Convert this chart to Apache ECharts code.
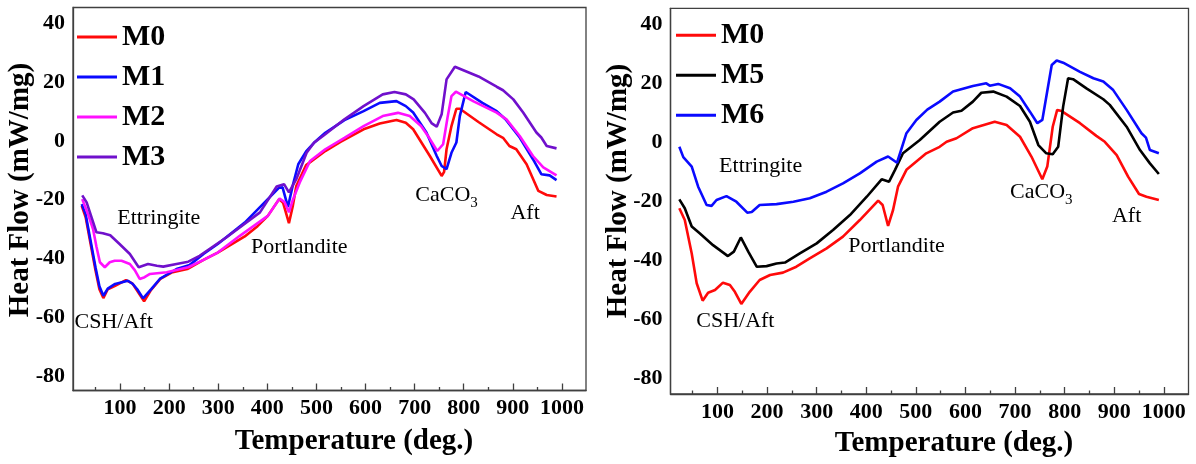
<!DOCTYPE html>
<html>
<head>
<meta charset="utf-8">
<script src="https://cdn.jsdelivr.net/npm/echarts@6/dist/echarts.min.js"></script>
<style>
html,body{margin:0;padding:0;background:#fff;}
#c{width:1196px;height:464px;}
</style>
</head>
<body>
<div id="c"></div>
<script>
// ---------- data (temperature in deg., heat flow in mW/mg) ----------
const xTickValues = [100,200,300,400,500,600,700,800,900,1000];
const xMinorValues = [50,150,250,350,450,550,650,750,850,950];
const yTickValues = [-80,-60,-40,-20,0,20,40];

// Left panel
const m0L_T = [22,30,40,50,58,66,75,90,112,125,135,149,162,182,205,237,270,299,354,380,401,424,432,444,452,459,479,518,549,596,629,663,682,697,731,755,760,765,775,785,792,830,867,880,893,907,928,952,969,989];
const m0L_V = [-22.1,-26,-35,-44,-50.5,-53.5,-50.5,-49.3,-47.4,-48.5,-51,-54.6,-51,-47,-44.8,-43.6,-40.5,-38,-32.5,-29,-25.5,-19.8,-21,-28,-22,-15.3,-8.2,-3.4,-0.3,4,6,7.2,6.2,4,-5.1,-11.9,-10.5,-2.8,5.1,11,11,6.5,2.3,1.1,-1.7,-2.8,-7.9,-17,-18.4,-18.9];

const m1L_T = [22,30,40,50,58,66,75,90,116,126,135,147,164,181,215,242,270,299,354,401,424,431,442,452,463,479,495,518,557,596,629,663,682,697,724,745,755,765,775,785,792,804,838,867,885,914,941,958,975,989];
const m1L_V = [-21.5,-25,-34,-43,-49.5,-52.7,-50.3,-48.7,-47.6,-48.7,-50.5,-53.6,-50.4,-47,-43.6,-42.2,-38.5,-35.1,-27.8,-19.8,-15.9,-15.8,-22.5,-15,-7.9,-3.5,-0.6,2.8,7.1,10.2,13,13.6,11.9,9.7,2.9,-5.1,-8.5,-9.6,-4,-0.5,8.5,16.7,13,10.2,7.4,1.2,-6.2,-11.3,-11.7,-13.3];

const m2L_T = [23,35,45,52,59,69,79,89,103,120,130,140,150,161,195,239,270,299,344,401,425,435,444,452,466,487,518,557,596,635,666,690,713,730,746,758,767,775,784,820,867,887,914,941,962,989];
const m2L_V = [-19.8,-25,-30,-36,-41.3,-43,-41.3,-40.8,-40.8,-41.9,-44,-47,-46.4,-45.3,-44.7,-43,-40.5,-38,-32.3,-25.5,-19.6,-20.8,-24.3,-20,-14.1,-6.8,-2.8,1.1,5.1,8.5,9.6,8.5,5.1,1,-3.4,-1.1,8,15.3,16.8,13.5,9.7,7.4,1.7,-5.1,-9,-11.7];

const m3L_T = [23,32,42,52,65,80,99,120,138,157,175,188,215,239,262,317,385,419,434,444,459,480,495,518,557,596,635,659,682,698,721,735,745,755,765,782,830,867,880,901,921,948,958,969,989];
const m3L_V = [-18.5,-20.9,-26,-31.1,-31.4,-32.1,-35.1,-38.5,-43,-41.9,-42.5,-42.8,-41.9,-41.1,-39.1,-32.8,-24.3,-15.5,-14.7,-17.5,-13,-4,-0.6,2.3,7.4,11.9,15.9,16.7,15.9,14.2,9.6,6,4.9,9.1,21,25.3,22,18.5,17.3,14.2,9.7,2.9,1.2,-1.7,-2.5];

// Right panel
const m0R_T = [23,34,48,58,70,81,95,111,125,135,148,165,185,206,232,259,286,320,353,387,424,433,444,454,464,481,521,548,562,582,615,659,683,710,733,755,765,776,785,794,831,864,881,905,928,950,965,990];
const m0R_V = [-22.4,-26.4,-37.7,-47.8,-53.7,-51,-50.1,-47.6,-48.4,-50.7,-54.8,-50.7,-46.7,-45,-44.2,-42.2,-39.4,-36,-32,-26.4,-19.8,-21.3,-28.4,-23,-15.1,-9.4,-3.8,-1.6,0.1,1.3,4.7,6.9,5.8,1.8,-4.9,-12.6,-8.3,5.2,10.9,10.5,6.4,2.1,0.1,-4.4,-11.7,-17.6,-18.5,-19.6];

const m5R_T = [23,34,48,64,91,121,133,147,162,179,199,219,236,266,300,333,367,401,431,446,458,474,508,548,575,592,615,632,656,683,710,730,747,763,776,787,797,807,817,844,878,891,925,952,972,990];
const m5R_V = [-19.4,-22.4,-28.6,-30.9,-34.9,-38.6,-37.1,-32.3,-37.1,-42.2,-42,-41.1,-40.8,-37.7,-34.3,-29.8,-24.7,-18.5,-12.6,-13.4,-9.4,-3.8,0.7,6.9,10,10.6,13.7,16.7,17.1,15.4,12.2,6.9,-1,-3.8,-4.1,-1.6,12,21.6,21.3,18.2,14.5,12.6,5.2,-2.7,-7.2,-10.8];

const m6R_T = [23,31,48,61,78,88,98,118,138,160,169,185,219,253,286,320,353,387,421,444,462,481,501,523,548,575,615,642,649,666,690,710,730,745,755,774,784,797,831,858,878,898,925,955,964,972,990];
const m6R_V = [-1.6,-5.1,-8.3,-15.1,-21.3,-21.6,-19.6,-18.3,-20.2,-23.9,-23.7,-21.3,-21,-20.2,-19,-16.8,-14,-10.6,-6.6,-4.9,-7,3,7.5,11,13.7,17.1,19,19.9,19.1,19.7,18.2,15.4,10.3,6.4,7.5,26.1,27.6,26.9,23.8,21.6,20.5,17.6,10.9,3,1.5,-2.7,-3.8];

// Annotation labels (text + anchor in data coordinates)
const annotLeft = [
  {text:'Ettringite', T:179, V:-26.3},
  {text:'Portlandite', T:465, V:-36.3},
  {text:'CSH/Aft', T:87, V:-61.6},
  {text:'CaCO{s|3}', T:765, V:-18.5},
  {text:'Aft', T:925, V:-24.6}
];
const annotRight = [
  {text:'Ettringite', T:187, V:-8.1},
  {text:'Portlandite', T:461, V:-35.2},
  {text:'CSH/Aft', T:136, V:-60.8},
  {text:'CaCO{s|3}', T:753, V:-16.9},
  {text:'Aft', T:925, V:-25}
];

// ---------- chart ----------
const FONT = '"Liberation Serif", "Times New Roman", serif';
const AX = '#404040';
const zip = (t, v) => t.map((x, i) => [x, v[i]]);

function xMain(grid, min, max) {
  return {
    type:'value', gridIndex:grid, min:min, max:max, position:'bottom',
    axisLine:{show:true, onZero:false, lineStyle:{color:AX, width:1.3}},
    axisTick:{show:true, inside:true, length:7, customValues:xTickValues, lineStyle:{color:AX, width:1.3}},
    axisLabel:{show:true, customValues:xTickValues, margin:7, color:'#000',
      fontFamily:FONT, fontWeight:'bold', fontSize:22, formatter:v=>String(v)},
    splitLine:{show:false}
  };
}
function xMinor(grid, min, max) {
  return {
    type:'value', gridIndex:grid, min:min, max:max, position:'bottom',
    axisLine:{show:false, onZero:false},
    axisTick:{show:true, inside:true, length:3.5, customValues:xMinorValues, lineStyle:{color:AX, width:1.3}},
    axisLabel:{show:false},
    splitLine:{show:false}
  };
}
function yAx(grid, min, max) {
  return {
    type:'value', gridIndex:grid, min:min, max:max,
    axisLine:{show:true, onZero:false, lineStyle:{color:AX, width:1.3}},
    axisTick:{show:false},
    axisLabel:{show:true, customValues:yTickValues, margin:8, color:'#000',
      fontFamily:FONT, fontWeight:'bold', fontSize:22, formatter:v=>String(v)},
    splitLine:{show:false}
  };
}
function annot(list) {
  return {
    symbol:'circle', symbolSize:0, silent:true,
    label:{show:true, position:'inside', color:'#000', fontFamily:FONT, fontSize:22,
      formatter:p=>p.name,
      rich:{s:{fontFamily:FONT, fontSize:15, color:'#000', padding:[16,0,0,0]}}},
    data:list.map(a=>({name:a.text, coord:[a.T, a.V], value:0}))
  };
}
function line(name, color, xi, yi, t, v, mp) {
  const s = {
    name:name, type:'line', xAxisIndex:xi, yAxisIndex:yi,
    data:zip(t, v), showSymbol:false, symbol:'none',
    lineStyle:{color:color, width:2.6}, itemStyle:{color:color},
    animation:false
  };
  if (mp) s.markPoint = mp;
  return s;
}

const RED='#ff0a0a', BLUE='#0a0aff', MAG='#ff10ff', PUR='#7010cc', BLK='#000000';

const option = {
  backgroundColor:'#fff',
  animation:false,
  grid:[
    {left:73, top:7.5, width:513, height:383, show:true, borderColor:AX, borderWidth:1.3, backgroundColor:'transparent'},
    {left:670.5, top:8.3, width:518, height:385.7, show:true, borderColor:AX, borderWidth:1.3, backgroundColor:'transparent'}
  ],
  xAxis:[xMain(0, 4.2, 1049), xMinor(0, 4.2, 1049), xMain(1, 5.2, 1049.8), xMinor(1, 5.2, 1049.8)],
  yAxis:[yAx(0, -85, 45.5), yAx(1, -85.3, 45.3)],
  legend:[
    {data:['M0','M1','M2','M3'], left:77, top:22, padding:0, orient:'vertical', icon:'rect',
      itemWidth:40, itemHeight:3, itemGap:10, selectedMode:false,
      textStyle:{fontFamily:FONT, fontWeight:'bold', fontSize:30, lineHeight:30, color:'#000'}},
    {data:['M0','M5','M6'], left:676, top:20.3, padding:0, orient:'vertical', icon:'rect',
      itemWidth:40, itemHeight:3, itemGap:10, selectedMode:false,
      textStyle:{fontFamily:FONT, fontWeight:'bold', fontSize:30, lineHeight:30, color:'#000'}}
  ],
  series:[
    line('M0', RED, 0, 0, m0L_T, m0L_V, annot(annotLeft)),
    line('M1', BLUE, 0, 0, m1L_T, m1L_V),
    line('M2', MAG, 0, 0, m2L_T, m2L_V),
    line('M3', PUR, 0, 0, m3L_T, m3L_V),
    line('M0', RED, 2, 1, m0R_T, m0R_V, annot(annotRight)),
    line('M5', BLK, 2, 1, m5R_T, m5R_V),
    line('M6', BLUE, 2, 1, m6R_T, m6R_V)
  ],
  graphic:[
    {type:'text', x:354, y:442, style:{text:'Temperature (deg.)', fill:'#000',
      font:'bold 29px ' + FONT, align:'center', verticalAlign:'middle'}},
    {type:'text', x:954, y:444, style:{text:'Temperature (deg.)', fill:'#000',
      font:'bold 29px ' + FONT, align:'center', verticalAlign:'middle'}},
    {type:'text', x:21, y:190, rotation:Math.PI/2, style:{text:'Heat Flow (mW/mg)', fill:'#000',
      font:'bold 29px ' + FONT, align:'center', verticalAlign:'middle'}},
    {type:'text', x:619, y:191, rotation:Math.PI/2, style:{text:'Heat Flow (mW/mg)', fill:'#000',
      font:'bold 29px ' + FONT, align:'center', verticalAlign:'middle'}}
  ]
};

const chart = echarts.init(document.getElementById('c'), null, {renderer:'canvas'});
chart.setOption(option);
</script>
</body>
</html>
